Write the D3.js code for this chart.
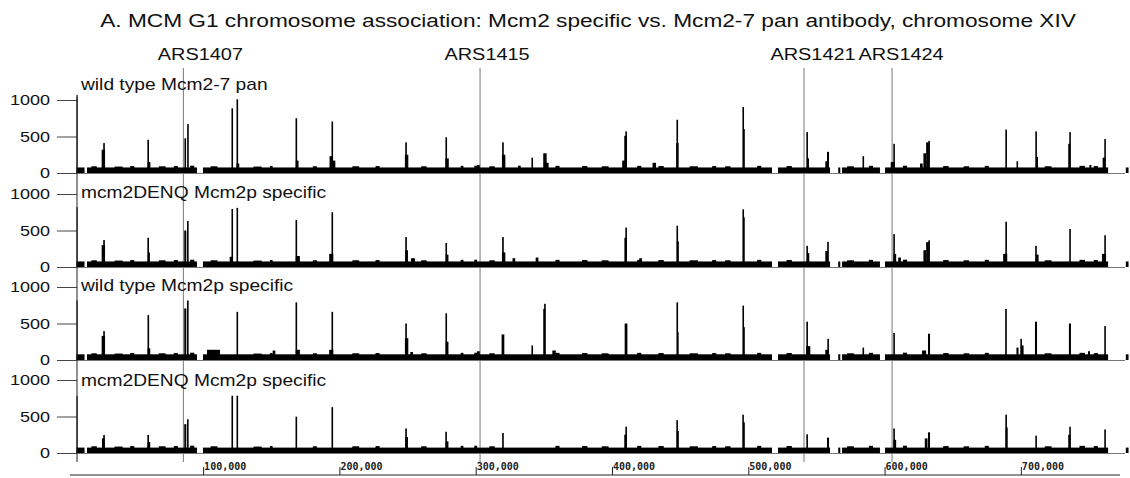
<!DOCTYPE html>
<html><head><meta charset="utf-8">
<script src="https://cdn.jsdelivr.net/npm/d3@7"></script>
<style>body{margin:0;background:#fff} svg{display:block}</style>
</head><body>
<svg id="chart" width="1130" height="478"></svg>
<script>
// ---------------- DATA ----------------
const titleText = "A. MCM G1 chromosome association: Mcm2 specific vs. Mcm2-7 pan antibody, chromosome XIV";
const arsNames = ["ARS1407", "ARS1415", "ARS1421", "ARS1424"];
const arsPosKb = [85.5, 303.2, 540.9, 605.5];
const panelLabels = ["wild type Mcm2-7 pan", "mcm2DENQ Mcm2p specific", "wild type Mcm2p specific", "mcm2DENQ Mcm2p specific"];
const yTickValues = [0, 500, 1000];
const yTickLabels = ["0", "500", "1000"];
const xTickKb = [100, 200, 300, 400, 500, 600, 700];
const xTickLabels = ["100,000", "200,000", "300,000", "400,000", "500,000", "600,000", "700,000"];
// stretches of chromosome with signal (kb)
const coverageKb = [[7, 13], [14.8, 95.5], [99.9, 517.4], [521.8, 560], [566, 567.5], [568.8, 596.6], [600.3, 764], [777, 779]];
const backgroundLevel = [76, 76, 78, 74];
// low background bumps common to all tracks: [kb, signal, width kb]
const bgBumps = [[20,92,4],[38,88,6],[48,95,3],[70,92,5],[80,95,3],[92,100,3],[108,92,5],[140,88,6],[150,95,2],
  [182,92,3],[212,92,5],[228,95,3],[262,92,4],[290,98,2],[300,100,2],[312,92,4],[360,98,3],[380,95,4],[395,92,5],
  [420,98,3],[436,95,4],[460,92,6],[475,95,3],[485,92,4],[508,98,3],[530,95,4],[575,92,5],[590,98,3],[615,100,3],
  [645,95,4],[660,92,4],[675,98,3],[720,92,5],[745,98,4],[755,95,3]];
const startSpike = [1070, 820, 815, 780];
// peaks: [position kb, signal, width kb]
const peaks1 = [[26.8,320,2.5],[27.3,410,1.2],[59.6,455,1],[60.3,150,2],[86.9,475,1.2],[88.8,670,1],
  [121.2,886,0.8],[124.9,1010,0.8],[125.5,130,2],[168.2,750,0.8],[169,170,2],[194,230,2.5],[194.6,705,0.8],[196,170,2],
  [248.9,420,1.2],[249.3,250,2.5],[278.2,490,0.8],[279,200,2.5],[302,110,2],[320,420,1.2],[320.5,250,2.5],[332,100,2],
  [341.3,210,0.8],[350.8,270,2.5],[352.5,140,2],[409,170,3],[410,510,2],[410.3,570,1],[431,140,2.5],[447.7,730,0.8],[448,410,1.8],
  [496.1,905,0.8],[496.8,600,1.3],[543.1,560,1],[543.8,200,1.5],[557.5,160,2],[558.5,290,1.5],[584.2,230,0.8],
  [606,150,3],[606.9,400,1],[627,130,2],[629.5,270,2],[631.5,420,2],[632.6,440,1],[689.1,595,1],[697.2,160,0.8],
  [711.1,570,1],[711.8,220,1.5],[735.5,400,1.5],[736,560,1],[751,110,1.5],[761,210,2],[761.7,465,1]];
const peaks2 = [[26.8,300,2.5],[27.3,370,1.2],[59.6,400,1],[60.2,200,1.5],[86.9,500,1.5],[88.7,630,1],
  [120.5,140,2],[121.2,795,0.8],[124.9,810,0.8],[168.2,645,0.8],[169.5,150,3],[194,180,3],[194.6,750,0.8],
  [248.9,410,1.2],[249.3,230,2],[254,120,3],[278.2,330,0.8],[279,170,2],[320,410,1.2],[320.5,200,2.5],[328,120,2],[345,130,2],
  [410,400,1.8],[410.3,540,1],[421,120,2],[447.7,565,0.8],[448.3,350,1.5],[496.1,790,0.8],[496.8,680,1.2],
  [543.1,290,1],[544,190,1.5],[557.5,220,2],[558.5,345,1.2],[606.9,450,1],[607.5,180,2],[611,130,2],
  [629.5,230,2],[631.5,340,2],[632.6,365,1],[688.5,180,3],[689.1,620,1],[711.1,290,1.2],[712,170,2],[736,520,1],[761,180,3],[761.7,435,1]];
const peaks3 = [[26.8,330,2.5],[27.3,395,1.2],[59.6,615,0.8],[60.2,160,2],[86.9,707,1.5],[88.7,815,1],
  [107.6,140,9.5],[124.9,660,0.8],[152,130,2],[168.2,790,0.8],[169.5,140,3],[194,140,3],[194.6,660,0.8],
  [248.9,500,1.2],[249.3,300,2.5],[253,110,2],[278.2,640,0.8],[279,250,2],[302,120,2],[320,350,2],[341.3,200,0.8],
  [350.3,700,1.5],[350.8,770,1.2],[357.5,130,2.5],[410.3,500,2],[447.7,790,0.8],[448.3,380,1.2],[496.1,745,0.8],[496.8,450,1.3],
  [543.1,525,1],[544,190,3],[557.5,140,2],[558.5,290,1],[584.2,170,0.8],[606.9,370,1],[629,130,3],[632.6,360,1.5],
  [689.1,700,1.2],[697.5,170,1.5],[700,290,0.8],[701,200,2],[711.1,525,1.5],[736,500,1.5],[750,120,1.5],[761.7,465,1]];
const peaks4 = [[26.8,200,2],[27.3,247,1.2],[59.6,247,1],[60.2,150,2],[86.9,395,1.5],[88.7,462,1],[121.2,785,0.8],[124.9,785,0.8],
  [168.2,498,0.8],[194.6,628,0.8],[248.9,336,1.2],[249.3,220,2],[278.2,291,1],[279,160,2],[320,274,1.2],[410.3,360,1],[410,250,2],
  [447.7,450,1],[448.3,300,1.5],[496.1,525,1],[496.8,420,1.3],[543.1,256,1],[558.5,210,1.5],[606.9,336,1],[607.5,180,2],
  [630.5,200,2],[632.6,283,1.5],[689.1,525,1],[689.6,350,1.5],[711.1,238,1],[736,360,1],[735.5,250,1.5],[761.7,323,1]];
const panelPeaks = [peaks1, peaks2, peaks3, peaks4];

// ---------------- LAYOUT ----------------
const SX = 1.2; // horizontal text stretch of the original raster
const panelBase = [173, 267, 360, 453];
const panelHeight = 73;
const labelY = [90, 198, 291, 386];
const arsLabelOffset = [17, 7, 9, 9];
const FONT = "'Liberation Sans', Arial, sans-serif";

const svg = d3.select("#chart");
const x = d3.scaleLinear().domain([6, 772]).range([75, 1119]);

function stretched(g, txt, tx, ty, size, anchor) {
  return g.append("text").attr("transform", `translate(${tx},${ty}) scale(${SX},1)`)
    .attr("text-anchor", anchor || "start").attr("font-family", FONT).attr("font-size", size)
    .attr("fill", "#111").text(txt);
}

// title
stretched(svg, titleText, 588, 27, 18.9, "middle");

// ARS lines + labels
arsPosKb.forEach((p, i) => {
  svg.append("line").attr("x1", x(p)).attr("x2", x(p)).attr("y1", 68).attr("y2", 462)
    .attr("stroke", "#777").attr("stroke-width", 1);
  stretched(svg, arsNames[i], x(p) + arsLabelOffset[i], 60, 16.6, "middle");
});

// panels
panelPeaks.forEach((peaks, pi) => {
  const base = panelBase[pi];
  const y = d3.scaleLinear().domain([0, 1000]).range([base, base - panelHeight]);
  const g = svg.append("g");
  g.append("line").attr("x1", 57).attr("x2", 1125).attr("y1", base + 0.5).attr("y2", base + 0.5)
    .attr("stroke", "#777").attr("stroke-width", 1);
  const yAxis = d3.axisLeft(y).tickValues(yTickValues).tickSize(20).tickFormat("");
  const ag = g.append("g").attr("transform", "translate(77,0)").call(yAxis);
  ag.select(".domain").remove();
  ag.selectAll(".tick line").attr("stroke", "#444");
  yTickValues.forEach((v, k) => stretched(g, yTickLabels[k], 50, y(v) + 5, 15, "end"));
  g.append("rect").attr("x", 76.5).attr("width", 1.2).attr("y", y(startSpike[pi])).attr("height", base - y(startSpike[pi])).attr("fill", "#111");
  g.selectAll("rect.bg").data(coverageKb).join("rect").attr("class", "bg")
    .attr("x", d => x(d[0])).attr("width", d => x(d[1]) - x(d[0]))
    .attr("y", y(backgroundLevel[pi])).attr("height", base - y(backgroundLevel[pi])).attr("fill", "#000");
  g.selectAll("rect.bb").data(bgBumps).join("rect").attr("class", "bb")
    .attr("x", d => x(d[0] - d[2] / 2)).attr("width", d => x(d[0] + d[2] / 2) - x(d[0] - d[2] / 2))
    .attr("y", d => y(d[1])).attr("height", d => base - y(d[1])).attr("fill", "#000");
  g.selectAll("rect.pk").data(peaks).join("rect").attr("class", "pk")
    .attr("x", d => x(d[0] - d[2] / 2)).attr("width", d => Math.max(1.6, x(d[0] + d[2] / 2) - x(d[0] - d[2] / 2)))
    .attr("y", d => y(d[1])).attr("height", d => base - y(d[1])).attr("fill", "#000");
  stretched(g, panelLabels[pi], 81, labelY[pi], 16, "start");
});

svg.append("line").attr("x1", 77).attr("x2", 77).attr("y1", 97).attr("y2", 462).attr("stroke", "#222");

// bottom x axis
const xAxis = d3.axisTop(x).tickValues(xTickKb).tickSize(8).tickFormat("");
const xg = svg.append("g").attr("transform", "translate(0,475)").call(xAxis);
xg.select(".domain").attr("d", `M70,0H1120`).attr("stroke", "#222");
xg.selectAll(".tick line").attr("stroke", "#222");
xTickKb.forEach((k, i) => {
  svg.append("text").attr("x", x(k) + 1).attr("y", 470).attr("font-family", "'DejaVu Sans Mono', monospace")
    .attr("font-weight", "bold").attr("font-size", 10).attr("fill", "#222").text(xTickLabels[i]);
});
</script>
</body></html>
